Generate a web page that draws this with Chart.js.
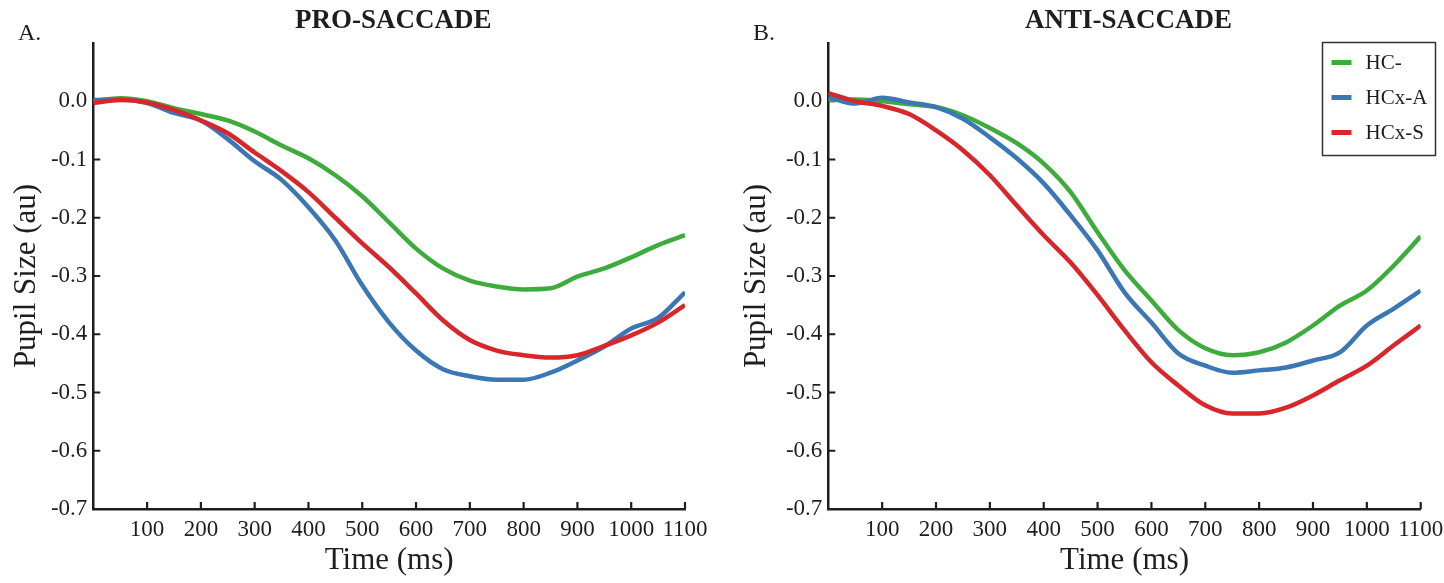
<!DOCTYPE html>
<html><head><meta charset="utf-8">
<script src="https://cdn.jsdelivr.net/npm/chart.js@4.4.1/dist/chart.umd.min.js"></script>
<style>
html,body{margin:0;padding:0;background:#fff;overflow:hidden}
#wrap{position:relative;width:1444px;height:583px;background:#fff;overflow:hidden}
canvas{position:absolute;top:0}
</style></head><body>
<div id="wrap">
<canvas id="cA" width="720" height="583" style="left:0"></canvas>
<canvas id="cB" width="732" height="583" style="left:720px"></canvas>
</div>
<script>
// ---- data ----
const timeMs = [0,50,100,150,200,250,300,350,400,450,500,550,600,650,700,750,800,850,900,950,1000,1050,1100];
const seriesNames = ['HC-','HCx-A','HCx-S'];
const panelTitles = ['PRO-SACCADE','ANTI-SACCADE'];
const panelLetters = ['A.','B.'];
const xAxisTitle = 'Time (ms)';
const yAxisTitle = 'Pupil Size (au)';

const proHC  = [0.0,0.005,0.0,-0.012,-0.022,-0.033,-0.052,-0.076,-0.098,-0.127,-0.163,-0.208,-0.253,-0.287,-0.308,-0.318,-0.323,-0.321,-0.301,-0.287,-0.268,-0.247,-0.230];
const proHCxA = [0.002,0.003,-0.003,-0.020,-0.033,-0.065,-0.103,-0.135,-0.182,-0.239,-0.316,-0.380,-0.428,-0.460,-0.472,-0.478,-0.478,-0.466,-0.445,-0.421,-0.390,-0.372,-0.328];
const proHCxS = [-0.003,0.002,-0.002,-0.015,-0.033,-0.055,-0.088,-0.120,-0.156,-0.200,-0.244,-0.285,-0.330,-0.376,-0.410,-0.428,-0.436,-0.440,-0.436,-0.420,-0.402,-0.380,-0.350];

const antiHC  = [0.002,0.003,0.0,-0.005,-0.010,-0.024,-0.046,-0.072,-0.107,-0.156,-0.225,-0.290,-0.342,-0.393,-0.424,-0.436,-0.431,-0.414,-0.385,-0.351,-0.325,-0.282,-0.232];
const antiHCxA = [0.007,-0.004,0.006,-0.002,-0.010,-0.030,-0.062,-0.098,-0.141,-0.196,-0.256,-0.328,-0.380,-0.433,-0.454,-0.466,-0.462,-0.457,-0.445,-0.431,-0.385,-0.356,-0.325];
const antiHCxS = [0.014,0.0,-0.008,-0.022,-0.050,-0.084,-0.127,-0.179,-0.230,-0.277,-0.333,-0.393,-0.448,-0.488,-0.522,-0.536,-0.536,-0.526,-0.505,-0.479,-0.454,-0.419,-0.385];

// ---- styles ----
const lineColors = ['#3dac3d','#3b77b5','#d8262b'];
const FONT = "'Liberation Serif', 'DejaVu Serif', serif";
const INK = '#1e1e1e';

function makeDatasets(arrs){
  return arrs.map((vals,i)=>({
    label: seriesNames[i],
    data: timeMs.map((t,k)=>({x:t,y:vals[k]})),
    borderColor: lineColors[i],
    backgroundColor: lineColors[i],
    borderWidth: 4.5,
    pointRadius: 0,
    cubicInterpolationMode: 'monotone',
    order: 3 - i,
    fill: false
  }));
}

const inwardTicks = {
  id:'inwardTicks',
  beforeDatasetsDraw(chart){
    const ctx = chart.ctx, ca = chart.chartArea;
    const xs = chart.scales.x, ys = chart.scales.y;
    ctx.save();
    ctx.strokeStyle = INK; ctx.lineWidth = 2.2;
    ctx.beginPath();
    xs.ticks.forEach(t=>{
      if (t.value <= 0) return;
      const px = xs.getPixelForValue(t.value);
      ctx.moveTo(px, ca.bottom); ctx.lineTo(px, ca.bottom - 7);
    });
    ys.ticks.forEach(t=>{
      if (t.value > 0.05) return;
      const py = ys.getPixelForValue(t.value);
      ctx.moveTo(ca.left, py); ctx.lineTo(ca.left + 7, py);
    });
    ctx.stroke();
    ctx.restore();
  }
};

const panelText = {
  id:'panelText',
  afterDraw(chart, args, opts){
    const ctx = chart.ctx, ca = chart.chartArea;
    ctx.save();
    ctx.fillStyle = INK;
    ctx.textBaseline = 'alphabetic';
    ctx.font = 'bold 27px ' + FONT;
    ctx.textAlign = 'center';
    ctx.fillText(opts.title, (ca.left + ca.right)/2 + 4, 28);
    ctx.font = '24px ' + FONT;
    ctx.textAlign = 'left';
    ctx.fillText(opts.letter, opts.letterX, 40);
    ctx.restore();
  }
};

const boxLegend = {
  id:'boxLegend',
  afterDraw(chart, args, opts){
    if (!opts.show) return;
    const ctx = chart.ctx;
    const bx = opts.x, by = opts.y, bw = opts.w, bh = opts.h;
    ctx.save();
    ctx.strokeStyle = '#333'; ctx.lineWidth = 1.5;
    ctx.strokeRect(bx, by, bw, bh);
    ctx.font = '21px ' + FONT;
    ctx.textBaseline = 'middle'; ctx.textAlign = 'left';
    chart.data.datasets.forEach((ds,i)=>{
      const cy = by + 20 + i*35;
      ctx.strokeStyle = ds.borderColor; ctx.lineWidth = 5;
      ctx.beginPath(); ctx.moveTo(bx + 9, cy); ctx.lineTo(bx + 29, cy); ctx.stroke();
      ctx.fillStyle = INK;
      ctx.fillText(ds.label, bx + 43, cy + 1);
    });
    ctx.restore();
  }
};

function makeChart(canvasId, arrs, idx, cfg){
  return new Chart(document.getElementById(canvasId), {
    type:'line',
    data:{ datasets: makeDatasets(arrs) },
    options:{
      responsive:false,
      animation:false,
      devicePixelRatio:1,
      layout:{ padding:{ top:43, right:cfg.padRight, left:0, bottom:0 } },
      plugins:{
        legend:{display:false},
        tooltip:{enabled:false},
        title:{display:false},
        panelText:{ title: panelTitles[idx], letter: panelLetters[idx], letterX: cfg.letterX },
        boxLegend: cfg.legend
      },
      scales:{
        x:{
          type:'linear', min:0, max:1100,
          afterFit(s){ s.height = 74; },
          grid:{display:false, drawTicks:false},
          border:{display:true, color:INK, width:2.5},
          ticks:{ stepSize:100, padding:7, color:INK, maxRotation:0, autoSkip:false,
                  font:{family:FONT, size:23},
                  callback:v => v <= 0 ? '' : String(v) },
          title:{ display:true, text:xAxisTitle, color:INK, font:{family:FONT, size:31}, padding:{top:0,bottom:4} }
        },
        y:{
          type:'linear', min:-0.7, max:0.1,
          afterFit(s){ s.width = cfg.yWidth; },
          grid:{display:false, drawTicks:false},
          border:{display:true, color:INK, width:2.5},
          ticks:{ stepSize:0.1, padding:6, color:INK, autoSkip:false,
                  font:{family:FONT, size:23},
                  callback:v => v > 0.05 ? '' : (Math.abs(v) < 1e-9 ? '0.0' : v.toFixed(1)) },
          title:{ display:true, text:yAxisTitle, color:INK, font:{family:FONT, size:31}, padding:{top:cfg.yTitlePad,bottom:0} }
        }
      }
    },
    plugins:[inwardTicks, panelText, boxLegend]
  });
}

makeChart('cA', [proHC, proHCxA, proHCxS], 0, {padRight:35, yWidth:93.3, yTitlePad:8, letterX:18, legend:{show:false}});
makeChart('cB', [antiHC, antiHCxA, antiHCxS], 1, {padRight:31.3, yWidth:108.3, yTitlePad:18, letterX:33,
  legend:{show:true, x:602.5, y:42.5, w:113, h:113}});
</script>
</body></html>
